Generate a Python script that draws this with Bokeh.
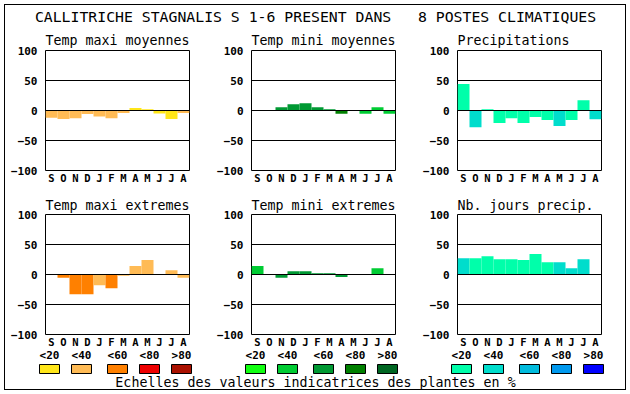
from bokeh.plotting import figure
from bokeh.models import Range1d, FixedTicker, CustomJSTickFormatter, ColumnDataSource
from bokeh.layouts import column, row
from bokeh.embed import file_html
from bokeh.resources import INLINE
from bokeh.core.properties import value

# ---------------- data ----------------
main_title = "CALLITRICHE STAGNALIS S 1-6 PRESENT DANS\u00a0\u00a0\u00a08 POSTES CLIMATIQUES"
months = ["S", "O", "N", "D", "J", "F", "M", "A", "M", "J", "J", "A"]
classes = ["<20", "<40", "<60", "<80", ">80"]
scale_text = "Echelles des valeurs indicatrices des plantes en %"

warm = ["#FFE619", "#FFBB55", "#FF8000", "#EE0000", "#AA1100"]
greens = ["#11FF11", "#00CC33", "#009933", "#008000", "#006622"]
blues = ["#00FFAA", "#00DDCC", "#00BBDD", "#0099EE", "#0000FF"]

tmax_moy = [-12, -14, -13, -6, -10, -13, -4, 4, 2, -5, -14, -4]
tmax_moy_cls = [1, 1, 1, 1, 1, 1, 1, 0, 0, 0, 0, 1]

tmin_moy = [0, 0, 5.5, 10.5, 12, 5.5, 2, -5.5, 0, -5.5, 5.5, -5.5]
tmin_moy_cls = [0, 0, 2, 2, 2, 2, 2, 3, 0, 1, 1, 1]

precip = [44, -28, 2, -21, -13, -21, -11, -16, -26, -16, 17, -14.5]
precip_cls = [0, 1, 0, 0, 0, 0, 0, 0, 1, 0, 0, 1]

tmax_ext = [0, -5.5, -33, -33, -18, -23, -2, 14, 24, -1, 7, -5.5]
tmax_ext_cls = [1, 2, 2, 2, 1, 2, 1, 1, 1, 0, 1, 1]

tmin_ext = [14, 0, -5.5, 5.5, 5.5, 2, 2, -4, 0, 0, 10.5, 0]
tmin_ext_cls = [1, 0, 2, 2, 2, 2, 2, 2, 0, 0, 1, 0]

nb_jours = [27, 27, 30.5, 25.5, 25.5, 24, 34, 20.5, 20.5, 10.5, 25.5, 0]
nb_jours_cls = [1, 0, 0, 0, 0, 0, 0, 0, 1, 1, 1, 0]

y_ticks = [-100, -50, 0, 50, 100]
grid_ticks = [-50, 0, 50]

MONO = "DejaVu Sans Mono"

# ---------------- layout sizes ----------------
col_left = [40, 37, 37]
col_right = [25, 25, 24]
row_top = [24, 22]
row_bottom = [22, 16]
title_standoff = [6, 4]
FRAME_W = 144
FRAME_H = 120
col_w = [col_left[i] + FRAME_W + col_right[i] for i in range(3)]


def panel(title, vals, cls, pal, c, r):
    p = figure(frame_width=FRAME_W, frame_height=FRAME_H,
               x_range=Range1d(0, 12), y_range=Range1d(-100, 100),
               output_backend="svg", toolbar_location=None,
               min_border_left=col_left[c], min_border_right=col_right[c],
               min_border_top=row_top[r], min_border_bottom=row_bottom[r])
    src = ColumnDataSource(dict(x=[i + 0.5 for i in range(len(vals))], top=vals,
                                color=[pal[k] for k in cls]))
    p.vbar(x="x", top="top", bottom=0, width=1, fill_color="color", line_color=None, source=src)

    p.title.text = title
    p.title.align = "left"
    p.title.text_font = MONO
    p.title.text_font_size = "13.3px"
    p.title.text_font_style = "normal"
    p.title.text_color = "black"
    p.title.standoff = title_standoff[r]

    p.outline_line_color = "black"
    p.outline_line_width = 1
    p.outline_line_alpha = 1

    p.xgrid.visible = False
    p.ygrid.ticker = FixedTicker(ticks=grid_ticks)
    p.ygrid.grid_line_color = "black"
    p.ygrid.grid_line_alpha = 1
    p.ygrid.grid_line_width = 1
    p.ygrid.level = "overlay"

    ya = p.yaxis[0]
    ya.ticker = FixedTicker(ticks=y_ticks)
    ya.axis_line_color = None
    ya.major_tick_line_color = None
    ya.minor_tick_line_color = None
    ya.major_tick_out = 0
    ya.major_tick_in = 0
    ya.axis_label_standoff = 0
    ya.major_label_standoff = 8
    ya.major_label_text_font = MONO
    ya.major_label_text_font_size = "11px"
    ya.major_label_text_font_style = "bold"
    ya.major_label_text_color = "black"

    xa = p.xaxis[0]
    xa.ticker = FixedTicker(ticks=[i + 0.5 for i in range(12)])
    xa.formatter = CustomJSTickFormatter(args=dict(m=months), code="return m[Math.floor(tick)];")
    xa.axis_line_color = None
    xa.major_tick_line_color = None
    xa.minor_tick_line_color = None
    xa.major_tick_out = 0
    xa.major_tick_in = 0
    xa.axis_label_standoff = 0
    xa.major_label_standoff = 1
    xa.major_label_text_font = MONO
    xa.major_label_text_font_size = "10.5px"
    xa.major_label_text_font_style = "bold"
    xa.major_label_text_color = "black"
    return p


p1 = panel("Temp maxi moyennes", tmax_moy, tmax_moy_cls, warm, 0, 0)
p2 = panel("Temp mini moyennes", tmin_moy, tmin_moy_cls, greens, 1, 0)
p3 = panel("Precipitations", precip, precip_cls, blues, 2, 0)
p4 = panel("Temp maxi extremes", tmax_ext, tmax_ext_cls, warm, 0, 1)
p5 = panel("Temp mini extremes", tmin_ext, tmin_ext_cls, greens, 1, 1)
p6 = panel("Nb. jours precip.", nb_jours, nb_jours_cls, blues, 2, 1)

TOTAL_W = sum(col_w)

# header
HEAD_H = 21
head = figure(width=TOTAL_W, height=HEAD_H, x_range=Range1d(0, 1), y_range=Range1d(0, 1),
              output_backend="svg", toolbar_location=None, min_border=0,
              x_axis_type=None, y_axis_type=None)
head.grid.visible = False
head.outline_line_color = None
head.text(x=[0.5], y=[0.5], text=[main_title], text_align="center", text_baseline="middle",
          text_font=value(MONO), text_font_size="14.8px", text_color="black")

# legend strip
LEG_H = 39
leg = figure(width=TOTAL_W, height=LEG_H, x_range=Range1d(0, TOTAL_W), y_range=Range1d(LEG_H, 0),
             output_backend="svg", toolbar_location=None, min_border=0,
             x_axis_type=None, y_axis_type=None)
leg.grid.visible = False
leg.outline_line_color = None

frame_lefts = [col_left[0], col_w[0] + col_left[1], col_w[0] + col_w[1] + col_left[2]]
offsets = [0, 32, 68, 100, 132]
SW_W = 20
lefts, rights, fills, lab_x, lab_t = [], [], [], [], []
for fl, pal in zip(frame_lefts, [warm, greens, blues]):
    g = fl - 6
    for k, off in enumerate(offsets):
        lefts.append(g + off)
        rights.append(g + off + SW_W)
        fills.append(pal[k])
        lab_x.append(g + off + SW_W / 2)
        lab_t.append(classes[k])
n = len(lefts)
leg.quad(left=lefts, right=rights, top=[14] * n, bottom=[23] * n,
         fill_color=fills, line_color="black", line_width=1)
leg.text(x=lab_x, y=[5] * n, text=lab_t, text_align="center", text_baseline="middle",
         text_font=value(MONO), text_font_size="11px", text_font_style="bold", text_color="black")
leg.text(x=[TOTAL_W / 2], y=[32], text=[scale_text], text_align="center", text_baseline="middle",
         text_font=value(MONO), text_font_size="13.3px", text_color="black")

layout = column(head, row(p1, p2, p3, spacing=0), row(p4, p5, p6, spacing=0), leg, spacing=0,
                styles={"border": "1px solid black", "margin": "4px"})

open("out.html", "w").write(file_html(layout, INLINE))
